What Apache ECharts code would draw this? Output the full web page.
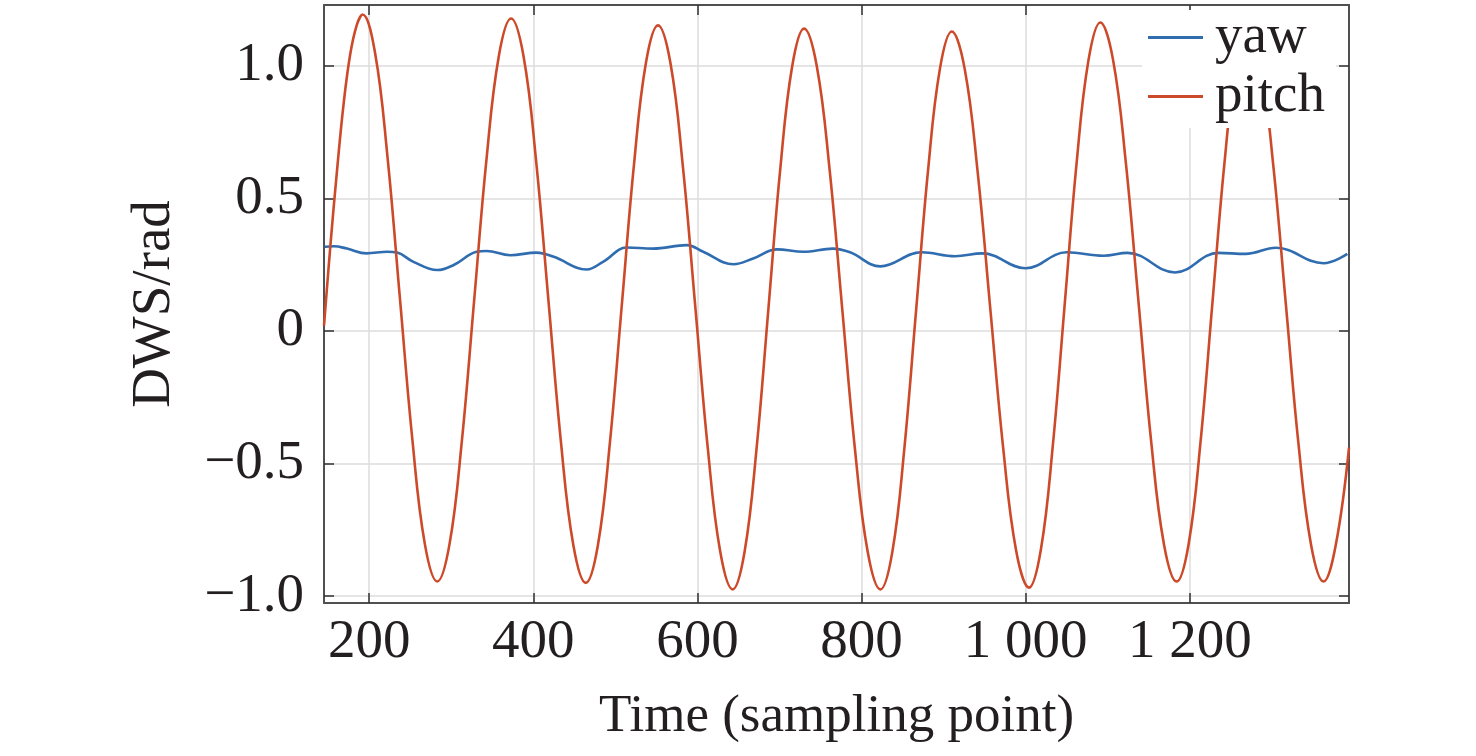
<!DOCTYPE html>
<html>
<head>
<meta charset="utf-8">
<script src="https://cdn.jsdelivr.net/npm/echarts@6/dist/echarts.min.js"></script>
<style>
html,body{margin:0;padding:0;background:#fff;}
#chart{width:1476px;height:756px;}
</style>
</head>
<body>
<div id="chart"></div>
<script>
var seriesNames = ['yaw', 'pitch'];
var xTickValues = [200, 400, 600, 800, 1000, 1200];
var yTickValues = [-1, -0.5, 0, 0.5, 1];

var yawData = [
  [146, 0.318], [157, 0.320], [173, 0.311], [197, 0.293], [222, 0.299], [234, 0.296],
  [254, 0.261], [283, 0.230], [303, 0.249], [331, 0.299], [343, 0.302], [372, 0.286],
  [404, 0.296], [425, 0.280], [465, 0.232], [485, 0.261], [514, 0.315], [546, 0.311],
  [587, 0.324], [607, 0.299], [644, 0.252], [668, 0.274], [697, 0.308], [729, 0.299],
  [765, 0.311], [786, 0.297], [823, 0.244], [873, 0.297], [914, 0.282], [947, 0.293],
  [1000, 0.237], [1050, 0.297], [1095, 0.284], [1124, 0.295], [1182, 0.221], [1235, 0.295],
  [1268, 0.291], [1305, 0.314], [1363, 0.256], [1392, 0.291]
];

var pitchData = [
  [145, 0.02], [153, 0.33], [161, 0.61], [169, 0.86], [177, 1.045], [185, 1.155], [192, 1.194],
  [207.2, 1.050], [222.3, 0.659], [237.5, 0.124], [252.7, -0.410], [267.8, -0.802], [283, -0.945],
  [298, -0.803], [313, -0.414], [328, 0.117], [343, 0.648], [358, 1.037], [373, 1.179],
  [388.2, 1.036], [403.3, 0.647], [418.5, 0.115], [433.7, -0.418], [448.8, -0.807], [464, -0.950],
  [478.7, -0.809], [493.3, -0.424], [508, 0.102], [522.7, 0.627], [537.3, 1.012], [552, 1.153],
  [567.2, 1.010], [582.3, 0.621], [597.5, 0.089], [612.7, -0.443], [627.8, -0.832], [643, -0.975],
  [657.5, -0.833], [672, -0.446], [686.5, 0.083], [701, 0.612], [715.5, 0.999], [730, 1.141],
  [745.5, 0.999], [761, 0.612], [776.5, 0.083], [792, -0.446], [807.5, -0.833], [823, -0.975],
  [837.5, -0.834], [852, -0.449], [866.5, 0.078], [881, 0.604], [895.5, 0.989], [910, 1.130],
  [925.7, 0.989], [941.3, 0.606], [957, 0.081], [972.7, -0.444], [988.3, -0.827], [1004, -0.968],
  [1018.5, -0.825], [1033, -0.435], [1047.5, 0.098], [1062, 0.631], [1076.5, 1.021], [1091, 1.164],
  [1106.5, 1.023], [1122, 0.637], [1137.5, 0.110], [1153, -0.418], [1168.5, -0.804], [1184, -0.945],
  [1198.5, -0.805], [1213, -0.421], [1227.5, 0.103], [1242, 0.626], [1256.5, 1.010], [1271, 1.150],
  [1286.3, 1.010], [1301.7, 0.626], [1317, 0.103], [1332.3, -0.421], [1347.7, -0.805], [1363, -0.945],
  [1378, -0.805], [1394, -0.44]
];

var FONT = '"Liberation Serif", "Times New Roman", serif';
var X_MIN = 145, X_MAX = 1394, Y_MIN = -1.026, Y_MAX = 1.23;

function fmtX(v) {
  var s = String(Math.round(v));
  if (s.length > 3) s = s.slice(0, s.length - 3) + ' ' + s.slice(s.length - 3);
  return s;
}
function fmtY(v) {
  if (Math.abs(v) < 1e-9) return '0';
  var s = Math.abs(v).toFixed(1);
  return (v < 0 ? '\u2212' : '') + s;
}

var axisLineStyle = { color: '#505050', width: 2 };
var tickStyle = { color: '#303030', width: 1.5 };
var gridLine = { show: true, lineStyle: { color: '#dcdcdc', width: 1.5 } };

var chart = echarts.init(document.getElementById('chart'), null, { renderer: 'canvas' });
chart.setOption({
  animation: false,
  backgroundColor: '#ffffff',
  color: ['#2f6db0', '#cc4a2a'],
  grid: { left: 324, right: 127, top: 5, bottom: 153, containLabel: false },
  legend: {
    data: seriesNames,
    orient: 'vertical',
    left: 1142,
    top: 10,
    icon: 'rect',
    itemWidth: 55,
    itemHeight: 3,
    itemGap: 4,
    padding: [0, 11, 4, 6],
    backgroundColor: '#ffffff',
    borderWidth: 0,
    textStyle: { fontFamily: FONT, fontSize: 55, color: '#231f20', padding: [0, 0, 0, 7] }
  },
  xAxis: [
    {
      type: 'value', min: X_MIN, max: X_MAX, position: 'bottom',
      name: 'Time (sampling point)', nameLocation: 'middle', nameGap: 88,
      nameTextStyle: { fontFamily: FONT, fontSize: 53, color: '#231f20' },
      axisLine: { show: true, onZero: false, lineStyle: axisLineStyle },
      axisTick: { show: true, inside: true, length: 10, lineStyle: tickStyle, customValues: xTickValues },
      axisLabel: { show: true, margin: 12, fontFamily: FONT, fontSize: 55, color: '#231f20', formatter: fmtX, customValues: xTickValues },
      splitLine: gridLine
    },
    {
      type: 'value', min: X_MIN, max: X_MAX, position: 'top',
      axisLine: { show: true, onZero: false, lineStyle: axisLineStyle },
      axisTick: { show: true, inside: true, length: 10, lineStyle: tickStyle, customValues: xTickValues },
      axisLabel: { show: false, customValues: xTickValues },
      splitLine: { show: false }
    }
  ],
  yAxis: [
    {
      type: 'value', min: Y_MIN, max: Y_MAX, position: 'left',
      name: 'DWS/rad', nameLocation: 'middle', nameGap: 142, nameRotate: 90,
      nameTextStyle: { fontFamily: FONT, fontSize: 55, color: '#231f20' },
      axisLine: { show: true, onZero: false, lineStyle: axisLineStyle },
      axisTick: { show: true, inside: true, length: 10, lineStyle: tickStyle, customValues: yTickValues },
      axisLabel: { show: true, margin: 20, fontFamily: FONT, fontSize: 55, color: '#231f20', formatter: fmtY, customValues: yTickValues },
      splitLine: gridLine
    },
    {
      type: 'value', min: Y_MIN, max: Y_MAX, position: 'right',
      axisLine: { show: true, onZero: false, lineStyle: axisLineStyle },
      axisTick: { show: true, inside: true, length: 10, lineStyle: tickStyle, customValues: yTickValues },
      axisLabel: { show: false, customValues: yTickValues },
      splitLine: { show: false }
    }
  ],
  series: [
    {
      name: seriesNames[0], type: 'line', data: yawData, xAxisIndex: 0, yAxisIndex: 0,
      showSymbol: false, symbol: 'none', smooth: 0.4,
      lineStyle: { width: 2.6, color: '#2f6db0' }, itemStyle: { color: '#2f6db0' }, z: 2
    },
    {
      name: seriesNames[1], type: 'line', data: pitchData, xAxisIndex: 0, yAxisIndex: 0,
      showSymbol: false, symbol: 'none', smooth: 0.4,
      lineStyle: { width: 2.6, color: '#cc4a2a' }, itemStyle: { color: '#cc4a2a' }, z: 3
    }
  ]
});
</script>
</body>
</html>
